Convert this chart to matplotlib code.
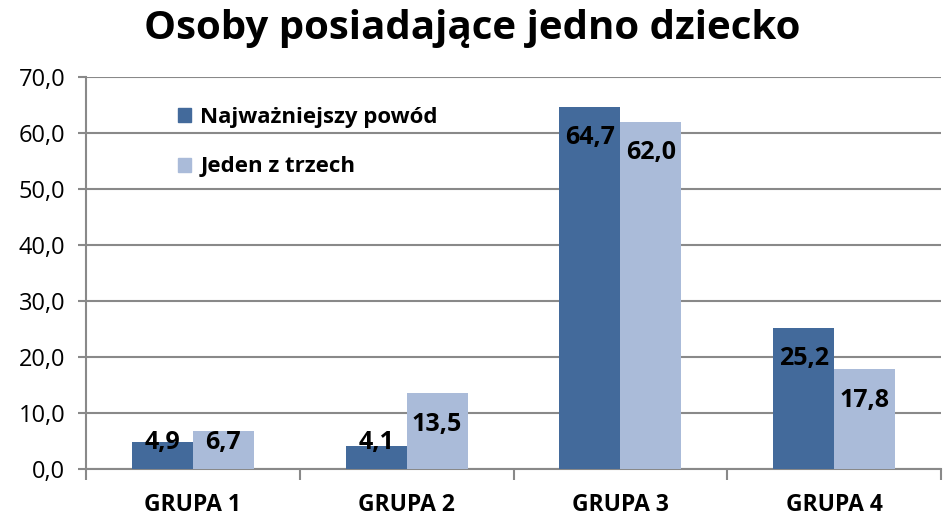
import matplotlib
matplotlib.use("Agg")
import matplotlib.pyplot as plt
from matplotlib.patches import Patch
import numpy as np

categories = ["GRUPA 1", "GRUPA 2", "GRUPA 3", "GRUPA 4"]
series_names = ["Najważniejszy powód", "Jeden z trzech"]
najwazniejszy = [4.9, 4.1, 64.7, 25.2]
jeden_z_trzech = [6.7, 13.5, 62.0, 17.8]
yticks = [0, 10, 20, 30, 40, 50, 60, 70]
title = "Osoby posiadające jedno dziecko"

c_dark = "#436A9B"
c_light = "#AABBD9"
grid_c = "#898989"

plt.rcParams["font.family"] = ["Open Sans", "DejaVu Sans"]

W, H = 943, 517
fig = plt.figure(figsize=(W / 100, H / 100), dpi=100)
left, right, bottom, top = 86, 941, 469, 77
ax = fig.add_axes([left / W, (H - bottom) / H, (right - left) / W, (bottom - top) / H])

x = np.arange(len(categories))
bw = 61 / 214
ax.bar(x - bw / 2, najwazniejszy, bw, color=c_dark, zorder=3)
ax.bar(x + bw / 2, jeden_z_trzech, bw, color=c_light, zorder=3)

ax.set_xlim(-0.5, len(categories) - 0.5)
ax.set_ylim(0, 70)
ax.set_yticks(yticks)
ax.set_yticklabels([f"{v:.1f}".replace(".", ",") for v in yticks], fontsize=17)
ax.yaxis.grid(True, color=grid_c, linewidth=1.5, zorder=0)
ax.set_axisbelow(True)
for s in ["top", "right"]:
    ax.spines[s].set_visible(False)
for s in ["left", "bottom"]:
    ax.spines[s].set_color(grid_c)
    ax.spines[s].set_linewidth(1.5)
ax.tick_params(axis="y", length=6, width=1.5, color=grid_c, pad=9)

ax.set_xticks(x)
ax.set_xticklabels(categories, fontsize=16.5, fontweight="bold")
ax.tick_params(axis="x", length=0, pad=17)
ax.set_xticks(np.arange(len(categories) + 1) - 0.5, minor=True)
ax.tick_params(axis="x", which="minor", length=8, width=1.5, color=grid_c)

px_per_unit = (bottom - top) / 70
def label_y(v):
    return max(v - 31 / px_per_unit, 26 / px_per_unit)

for i, (a, b) in enumerate(zip(najwazniejszy, jeden_z_trzech)):
    for xx, v in ((i - bw / 2, a), (i + bw / 2, b)):
        ax.text(xx, label_y(v), f"{v:.1f}".replace(".", ","), ha="center", va="center",
                fontsize=18, fontweight="bold", color="black", zorder=5)

handles = [Patch(color=c_dark), Patch(color=c_light)]
fig.legend(handles, series_names, loc="upper left", bbox_to_anchor=(158 / W, 1 - 87 / H),
           frameon=False, prop={"weight": "bold", "size": 16},
           handlelength=0.6, handleheight=0.6, handletextpad=0.4, labelspacing=1.28)

fig.text(472 / W, 1 - 29 / H, title, ha="center", va="center", fontsize=29, fontweight="bold")

fig.savefig("out.png", dpi=100)
